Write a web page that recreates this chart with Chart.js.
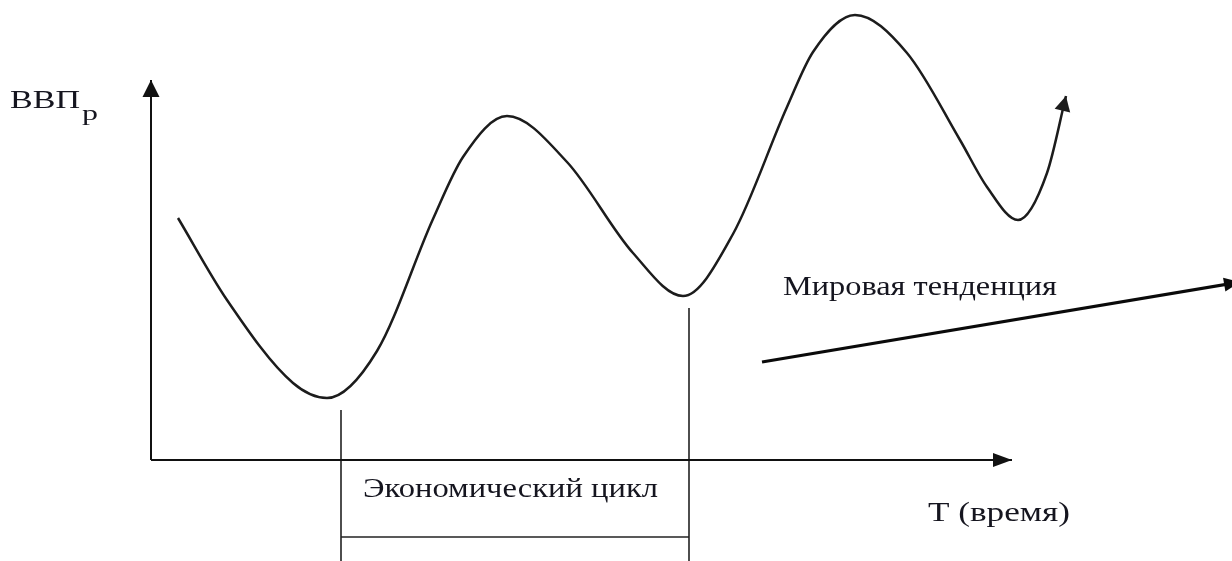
<!DOCTYPE html>
<html>
<head>
<meta charset="utf-8">
<script src="https://cdn.jsdelivr.net/npm/chart.js@4/dist/chart.umd.min.js"></script>
<style>
html,body{margin:0;padding:0;background:#fff;overflow:hidden;}
canvas{display:block;}
</style>
</head>
<body>
<canvas id="c" width="1232" height="561"></canvas>
<script>
// ---- Data (conceptual units: time along X, real GDP along Y; origin = axes intersection) ----
const cycleTime = [2.7, 7.6, 14.2, 17.6, 22.6, 28.2, 31.2, 35.6, 41.6, 48.2, 53.2, 58.2, 63.6, 66.2, 70.4, 75.6, 80.9, 83.6, 86.7, 89.6, 91.5];
const cycleGdp  = [24.2, 16.0, 7.7, 6.2, 10.9, 24.1, 30.3, 34.4, 29.8, 20.7, 16.4, 22.6, 35.3, 40.8, 44.5, 40.7, 32.0, 27.3, 24.0, 28.7, 36.4];

const trendTime = [61.1, 108.9];
const trendGdp  = [9.8, 17.8];

const axisYTime = [0, 0];
const axisYGdp  = [0, 38.0];
const axisXTime = [0, 86.1];
const axisXGdp  = [0, 0];

const cycleStartTime = 19.0;
const cycleEndTime   = 53.8;
const cycleStartTop  = 5.0;
const cycleEndTop    = 15.2;
const cycleBarGdp    = -7.7;

const labelTexts = ["ВВП", "р", "Мировая тенденция", "Экономический цикл", "T (время)"];
const labelTime  = [-14.1, -6.9, 63.2, 21.2, 77.7];
const labelGdp   = [35.2, 34.0, 16.5, -3.7, -6.1];

const xRange = [-15.1, 108.1];
const yRange = [-10.1, 46.0];

function pts(xs, ys){ return xs.map((x,i)=>({x:x, y:ys[i]})); }

// text styles: font size, target stretched width (px)
const labelStyle = [
  {size:25, width:70},
  {size:20, width:16},
  {size:27, width:274},
  {size:27, width:295},
  {size:27, width:142}
];

const arrowPlugin = {
  id:'arrowsAndText',
  afterDatasetsDraw(chart){
    const ctx = chart.ctx;
    const xs = chart.scales.x, ys = chart.scales.y;
    chart.data.datasets.forEach((ds)=>{
      if(!ds.arrow) return;
      const n = ds.data.length;
      const a = ds.data[n-2], b = ds.data[n-1];
      const x1 = xs.getPixelForValue(a.x), y1 = ys.getPixelForValue(a.y);
      const x2 = xs.getPixelForValue(b.x), y2 = ys.getPixelForValue(b.y);
      const ang = Math.atan2(y2-y1, x2-x1);
      const L = ds.arrow.len, W = ds.arrow.half;
      ctx.save();
      ctx.fillStyle = ds.borderColor;
      ctx.beginPath();
      ctx.moveTo(x2, y2);
      ctx.lineTo(x2 - L*Math.cos(ang) + W*Math.sin(ang), y2 - L*Math.sin(ang) - W*Math.cos(ang));
      ctx.lineTo(x2 - L*Math.cos(ang) - W*Math.sin(ang), y2 - L*Math.sin(ang) + W*Math.cos(ang));
      ctx.closePath();
      ctx.fill();
      ctx.restore();
    });
    labelTexts.forEach((t,i)=>{
      const st = labelStyle[i];
      ctx.save();
      ctx.font = st.size + 'px "Liberation Serif", "Times New Roman", serif';
      ctx.fillStyle = '#15151f';
      ctx.textBaseline = 'alphabetic';
      const w = ctx.measureText(t).width;
      const px = xs.getPixelForValue(labelTime[i]);
      const py = ys.getPixelForValue(labelGdp[i]);
      ctx.translate(px, py);
      ctx.scale(st.width / w, 1);
      ctx.fillText(t, 0, 0);
      ctx.restore();
    });
  }
};

const lineStyle = (color, width) => ({
  showLine:true, borderColor:color, backgroundColor:color, borderWidth:width,
  pointRadius:0, pointHoverRadius:0, fill:false
});

new Chart(document.getElementById('c'), {
  type:'scatter',
  data:{
    datasets:[
      Object.assign({label:'ВВП', data:pts(cycleTime, cycleGdp), cubicInterpolationMode:'monotone', arrow:{len:15, half:8}}, lineStyle('#1c1c1c', 2.5)),
      Object.assign({label:'Мировая тенденция', data:pts(trendTime, trendGdp), arrow:{len:16, half:7}}, lineStyle('#0a0a0a', 3.2)),
      Object.assign({label:'axisY', data:pts(axisYTime, axisYGdp), arrow:{len:17, half:8.5}}, lineStyle('#111', 2)),
      Object.assign({label:'axisX', data:pts(axisXTime, axisXGdp), arrow:{len:19, half:7}}, lineStyle('#111', 2)),
      Object.assign({label:'start', data:pts([cycleStartTime, cycleStartTime],[cycleStartTop, yRange[0]])}, lineStyle('#222', 1.6)),
      Object.assign({label:'end', data:pts([cycleEndTime, cycleEndTime],[cycleEndTop, yRange[0]])}, lineStyle('#222', 1.6)),
      Object.assign({label:'bar', data:pts([cycleStartTime, cycleEndTime],[cycleBarGdp, cycleBarGdp])}, lineStyle('#222', 1.6))
    ]
  },
  options:{
    responsive:false,
    animation:false,
    devicePixelRatio:1,
    layout:{padding:0},
    plugins:{legend:{display:false}, tooltip:{enabled:false}},
    events:[],
    scales:{
      x:{type:'linear', display:false, min:xRange[0], max:xRange[1]},
      y:{type:'linear', display:false, min:yRange[0], max:yRange[1]}
    }
  },
  plugins:[arrowPlugin]
});
</script>
</body>
</html>
